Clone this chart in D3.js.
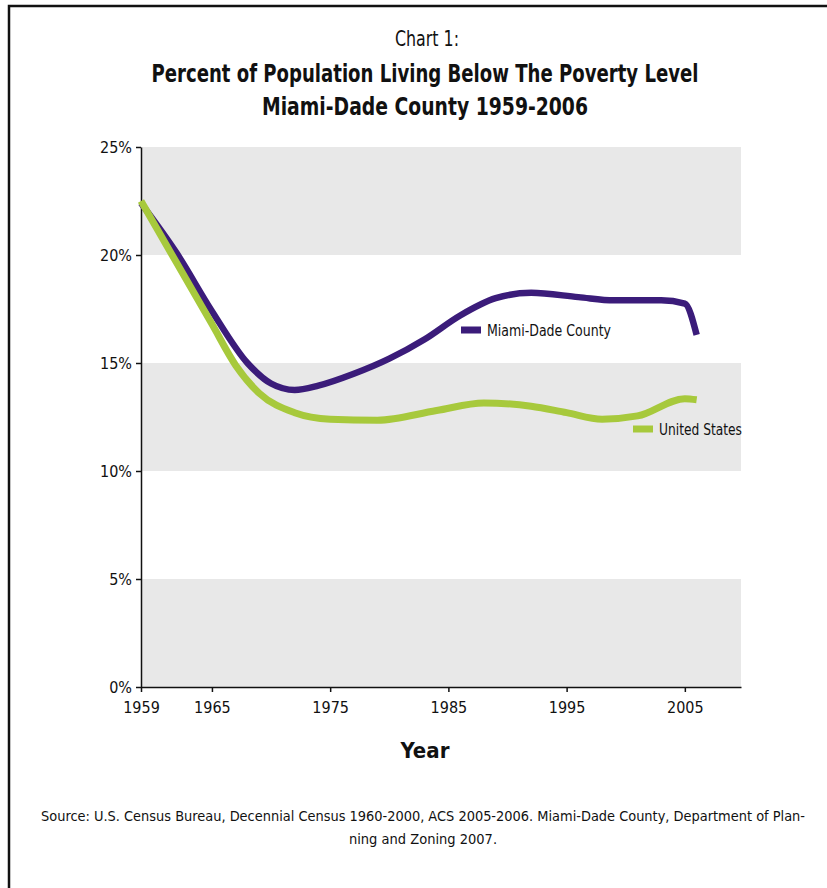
<!DOCTYPE html>
<html>
<head>
<meta charset="utf-8">
<script src="https://cdn.jsdelivr.net/npm/d3@7"></script>
<style>
  body { margin: 0; background: #fff; }
  svg { display: block; }
  text { font-family: "Liberation Sans Narrow", "DejaVu Sans Condensed", "Roboto", sans-serif; fill: #111; }
</style>
</head>
<body>
<div id="chart"></div>
<script>
// data
const miamiYears  = [1959, 1962, 1965, 1968, 1970, 1972, 1974, 1977, 1980, 1983, 1986, 1989, 1992, 1996, 1999, 2003, 2005, 2006];
const miamiValues = [22.4, 20.1, 17.4, 15.0, 14.05, 13.75, 13.95, 14.5, 15.2, 16.1, 17.2, 18.0, 18.25, 18.05, 17.9, 17.9, 17.75, 16.3];

const usYears  = [1959, 1962, 1965, 1967, 1969, 1972, 1975, 1979, 1984, 1988, 1992, 1995, 1998, 2001, 2005, 2006];
const usValues = [22.5, 19.65, 16.8, 14.9, 13.6, 12.7, 12.4, 12.35, 12.8, 13.15, 13.0, 12.7, 12.4, 12.55, 13.35, 13.3];

const xTicks = [1959, 1965, 1975, 1985, 1995, 2005];
const yTicks = [0, 5, 10, 15, 20, 25];
const bands  = [[0, 5], [10, 15], [20, 25]];

const width = 827, height = 888;
const margin = { top: 147, right: 86, bottom: 201, left: 141 };

const svg = d3.select("#chart").append("svg")
    .attr("width", width)
    .attr("height", height);

// frame (top and left only)
svg.append("path")
    .attr("d", `M9,${height} V6 H${width}`)
    .attr("fill", "none")
    .attr("stroke", "#111")
    .attr("stroke-width", 2.5);

// titles
svg.append("text").attr("x", 427).attr("y", 46).attr("text-anchor", "middle")
    .style("font-size", "22px").style("font-weight", "300")
    .attr("textLength", 64).attr("lengthAdjust", "spacingAndGlyphs")
    .text("Chart 1:");
svg.append("text").attr("x", 425).attr("y", 82).attr("text-anchor", "middle")
    .style("font-size", "24px").style("font-weight", "bold")
    .attr("textLength", 547).attr("lengthAdjust", "spacingAndGlyphs")
    .text("Percent of Population Living Below The Poverty Level");
svg.append("text").attr("x", 425).attr("y", 115).attr("text-anchor", "middle")
    .style("font-size", "24px").style("font-weight", "bold")
    .attr("textLength", 326).attr("lengthAdjust", "spacingAndGlyphs")
    .text("Miami-Dade County 1959-2006");

// scales
const x = d3.scaleLinear()
    .domain([1959, 2009.75])
    .range([margin.left, width - margin.right]);

const y = d3.scaleLinear()
    .domain([0, 25])
    .range([height - margin.bottom, margin.top]);

// grey bands
svg.selectAll(".band")
    .data(bands)
    .enter()
    .append("rect")
    .attr("x", x(1959))
    .attr("width", x.range()[1] - x(1959))
    .attr("y", d => y(d[1]))
    .attr("height", d => y(d[0]) - y(d[1]))
    .attr("fill", "#e8e8e8");

// axes
const yAxis = svg.append("g")
    .attr("transform", `translate(${margin.left},0)`)
    .call(d3.axisLeft(y).tickValues(yTicks).tickFormat(d => d + "%").tickSize(5).tickSizeOuter(0));
yAxis.selectAll("text").style("font-size", "16px").attr("dx", "-1").attr("dy", "0.32em");

const xAxis = svg.append("g")
    .attr("transform", `translate(0,${height - margin.bottom})`)
    .call(d3.axisBottom(x).tickValues(xTicks).tickFormat(d3.format("d")).tickSize(5).tickSizeOuter(0));
xAxis.selectAll("text").style("font-size", "16px").attr("dy", "1.15em");

svg.selectAll(".domain, .tick line").attr("stroke", "#111").attr("stroke-width", 1.5);

// lines
const line = d3.line()
    .x(d => x(d[0]))
    .y(d => y(d[1]))
    .curve(d3.curveMonotoneX);

const miami = d3.zip(miamiYears, miamiValues);
const us = d3.zip(usYears, usValues);

svg.append("path").datum(miami)
    .attr("d", line)
    .attr("fill", "none")
    .attr("stroke", "#3b1c7a")
    .attr("stroke-width", 6.5);

svg.append("path").datum(us)
    .attr("d", line)
    .attr("fill", "none")
    .attr("stroke", "#a7c93c")
    .attr("stroke-width", 7);

// legend labels near the lines
const legend = [
    { name: "Miami-Dade County", color: "#3b1c7a", sx: 461, sy: 330, w: 124 },
    { name: "United States", color: "#a7c93c", sx: 633, sy: 429, w: 83 }
];
legend.forEach(l => {
    svg.append("rect").attr("x", l.sx).attr("y", l.sy - 3.5).attr("width", 20).attr("height", 7).attr("fill", l.color);
    svg.append("text").attr("x", l.sx + 26).attr("y", l.sy + 6).style("font-size", "15px")
        .attr("textLength", l.w).attr("lengthAdjust", "spacingAndGlyphs").text(l.name);
});

// axis title
svg.append("text").attr("x", 425).attr("y", 758).attr("text-anchor", "middle")
    .style("font-size", "22px").style("font-weight", "bold").text("Year");

// source
svg.append("text").attr("x", 423).attr("y", 821).attr("text-anchor", "middle")
    .style("font-size", "14.5px")
    .attr("textLength", 764).attr("lengthAdjust", "spacingAndGlyphs")
    .text("Source: U.S. Census Bureau, Decennial Census 1960-2000, ACS 2005-2006. Miami-Dade County, Department of Plan-");
svg.append("text").attr("x", 423).attr("y", 844).attr("text-anchor", "middle")
    .style("font-size", "14.5px")
    .text("ning and Zoning 2007.");
</script>
</body>
</html>
